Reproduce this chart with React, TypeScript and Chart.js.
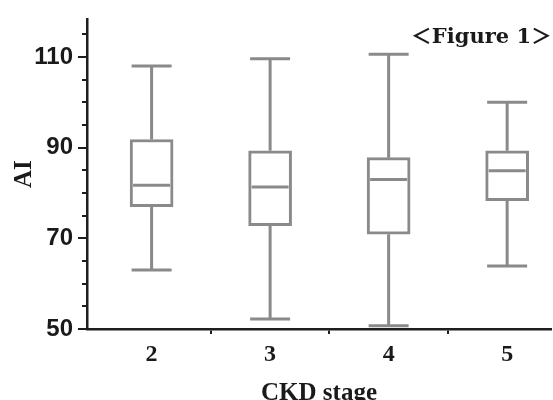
import React, { useEffect, useRef } from "react";
import { Chart, registerables } from "chart.js";

Chart.register(...registerables);

const categories = [2, 3, 4, 5];
const whiskerMax = [108.0, 109.6, 110.6, 100.0];
const q3 = [91.8, 89.3, 87.8, 89.3];
const medians = [81.7, 81.3, 83.0, 84.9];
const q1 = [77.0, 72.8, 70.9, 78.3];
const whiskerMin = [63.0, 52.2, 50.7, 63.9];

const yTickValues = [50, 55, 60, 65, 70, 75, 80, 85, 90, 95, 100, 105, 110, 115];
const yTickLabels = [50, 70, 90, 110];
const xTickValues = [2, 2.5, 3, 3.5, 4, 4.5, 5];

const figureTitle = "＜Figure 1＞";
const xTitle = "CKD stage";
const yTitle = "AI";

const BOX_COLOR = "#8a8a8a";
const AXIS_COLOR = "#1e1e1e";
const TEXT_COLOR = "#1a1a1a";

const whiskerPlugin = {
  id: "whiskers",
  afterDatasetsDraw(chart: any) {
    const { ctx, scales } = chart;
    const xs = scales.x;
    const ys = scales.y;
    const half = 20;
    ctx.save();
    ctx.strokeStyle = BOX_COLOR;
    ctx.lineWidth = 3;
    ctx.lineCap = "butt";
    categories.forEach((c, i) => {
      const x = xs.getPixelForValue(c);
      const yMax = ys.getPixelForValue(whiskerMax[i]);
      const yQ3 = ys.getPixelForValue(q3[i]);
      const yMed = ys.getPixelForValue(medians[i]);
      const yQ1 = ys.getPixelForValue(q1[i]);
      const yMin = ys.getPixelForValue(whiskerMin[i]);
      ctx.beginPath();
      ctx.moveTo(x, yMax);
      ctx.lineTo(x, yQ3);
      ctx.moveTo(x, yQ1);
      ctx.lineTo(x, yMin);
      ctx.moveTo(x - half, yMax);
      ctx.lineTo(x + half, yMax);
      ctx.moveTo(x - half, yMin);
      ctx.lineTo(x + half, yMin);
      ctx.moveTo(x - half + 1.5, yMed);
      ctx.lineTo(x + half - 1.5, yMed);
      ctx.stroke();
    });
    ctx.restore();
  },
  afterDraw(chart: any) {
    const { ctx } = chart;
    ctx.save();
    ctx.fillStyle = TEXT_COLOR;
    ctx.font = 'bold 21px "DejaVu Serif", "Noto Sans CJK JP"';
    ctx.textAlign = "right";
    ctx.textBaseline = "alphabetic";
    ctx.fillText(figureTitle, 552, 43);
    ctx.restore();
  },
};

export default function App() {
  const canvasRef = useRef<HTMLCanvasElement | null>(null);

  useEffect(() => {
    document.body.style.margin = "0";
    const canvas = canvasRef.current;
    if (!canvas) return;
    const chart = new Chart(canvas, {
      type: "bar",
      data: {
        datasets: [
          {
            data: categories.map((c, i) => ({ x: c, y: [q1[i], q3[i]] })) as any,
            backgroundColor: "#ffffff",
            borderColor: BOX_COLOR,
            borderWidth: 3,
            borderSkipped: false,
            barThickness: 43,
          },
        ],
      },
      options: {
        animation: false,
        responsive: false,
        events: [],
        layout: { padding: { top: 15, right: 2, left: 0, bottom: 0 } },
        plugins: {
          legend: { display: false },
          tooltip: { enabled: false },
        },
        scales: {
          x: {
            type: "linear",
            min: 1.455,
            max: 5.37,
            offset: false,
            afterBuildTicks: (scale: any) => {
              scale.ticks = xTickValues.map((v) => ({ value: v }));
            },
            afterFit: (scale: any) => {
              scale.height = 71;
            },
            ticks: {
              autoSkip: false,
              maxRotation: 0,
              padding: 6,
              color: TEXT_COLOR,
              font: { family: '"Liberation Serif", serif', size: 24, weight: "bold" },
              callback: (value: any) => (Number.isInteger(value) ? String(value) : ""),
            },
            grid: {
              offset: false,
              drawOnChartArea: false,
              drawTicks: true,
              tickLength: 5,
              lineWidth: 2,
              color: (ctx: any) =>
                ctx.tick && !Number.isInteger(ctx.tick.value) ? AXIS_COLOR : "rgba(0,0,0,0)",
            },
            border: { display: true, color: AXIS_COLOR, width: 2.5 },
            title: {
              display: true,
              text: xTitle,
              color: TEXT_COLOR,
              padding: 0,
              font: { family: '"Liberation Serif", serif', size: 25, weight: "bold", lineHeight: 0.48 },
            },
          },
          y: {
            type: "linear",
            min: 50,
            max: 118.3,
            afterBuildTicks: (scale: any) => {
              scale.ticks = yTickValues.map((v) => ({ value: v }));
            },
            afterFit: (scale: any) => {
              scale.width = 87;
            },
            ticks: {
              autoSkip: false,
              padding: 5,
              color: TEXT_COLOR,
              font: { family: '"Liberation Sans", Arial, sans-serif', size: 24, weight: "bold" },
              callback: (value: any) => (yTickLabels.includes(value) ? String(value) : ""),
            },
            grid: {
              drawOnChartArea: false,
              drawTicks: true,
              tickLength: 9,
              lineWidth: 2,
              color: AXIS_COLOR,
              tickBorderDash: (ctx: any) =>
                ctx.tick && yTickLabels.includes(ctx.tick.value) ? [] : [0, 4, 5, 100],
            } as any,
            border: { display: true, color: AXIS_COLOR, width: 2.5 },
            title: {
              display: true,
              text: yTitle,
              color: TEXT_COLOR,
              padding: { top: 10, bottom: 0 },
              font: { family: '"Liberation Serif", serif', size: 25, weight: "bold" },
            },
          },
        },
      },
      plugins: [whiskerPlugin],
    });
    return () => chart.destroy();
  }, []);

  return (
    <div style={{ width: 553, height: 400 }}>
      <canvas ref={canvasRef} width={553} height={400} style={{ display: "block" }} />
    </div>
  );
}
